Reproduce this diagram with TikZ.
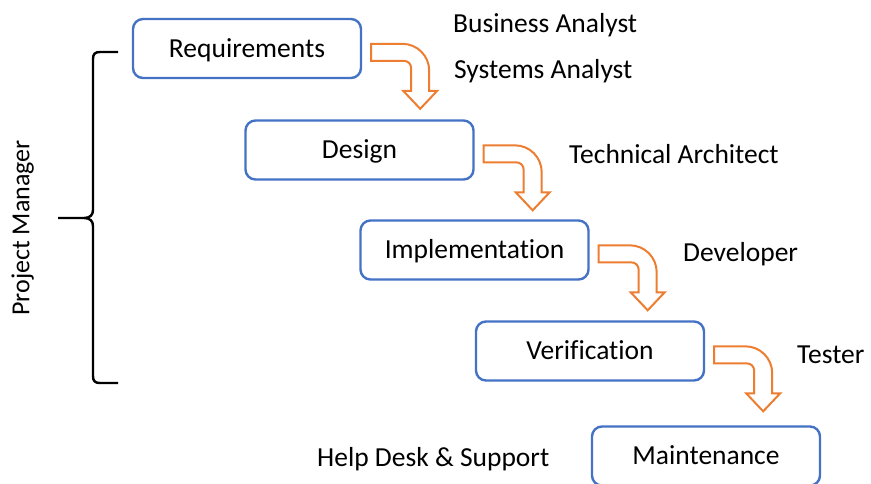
\documentclass[tikz,border=0pt]{standalone}
\usepackage{fontspec}
\setmainfont{Carlito}[Ligatures=NoCommon]
\usetikzlibrary{calc}
\definecolor{stageblue}{HTML}{4472C4}
\definecolor{floworange}{HTML}{ED7D31}

% bent block arrow leaving the right side of a stage box and pointing down
\newcommand\stagearrow[1]{%
  \draw[flowarrow, shift={($(#1.north east)+(9,26)$)}]
    (0,0) -- (31,0) .. controls (46,0) and (58,12) .. (58,27)
    -- (58,47) -- (66,47) -- (49,65) -- (32,47) -- (40,47) -- (40,25)
    .. controls (40,20) and (37,17) .. (32,17) -- (0,17) -- cycle;}

\begin{document}
\begin{tikzpicture}[x=1pt,y=-1pt,
  labelfont/.style={font=\fontsize{27.5}{32}\selectfont},
  stagebox/.style={labelfont, draw=stageblue, line width=2.4pt,
    rounded corners=10pt, minimum width=228pt, minimum height=59pt,
    inner sep=0pt, text height=17.7pt, text depth=0pt},
  role/.style={labelfont, inner sep=0pt, text height=17.7pt, text depth=0pt,
    anchor=west},
  flowarrow/.style={draw=floworange, fill=white, line width=2pt},
  brace/.style={draw=black, line width=2.4pt}]

\useasboundingbox (0,0) rectangle (871,483);
\clip (0,0) rectangle (871,483);

% stages
\node[stagebox] (s1) at (247,48.5)  {Requirements};
\node[stagebox] (s2) at (359.5,150) {Design};
\node[stagebox] (s3) at (474.5,250) {Implementation};
\node[stagebox] (s4) at (590,351)   {Verification};
\node[stagebox] (s5) at (706,456)   {Maintenance};

% flow between stages
\stagearrow{s1}
\stagearrow{s2}
\stagearrow{s3}
\stagearrow{s4}

% roles
\node[role] (r1) at (453,24)  {Business Analyst};
\node[role] (r2) at (454,70)  {Systems Analyst};
\node[role] (r3) at (569,155) {Technical Architect};
\node[role] (r4) at (683,253) {Developer};
\node[role] (r5) at (797,355) {Tester};
\node[role] (r6) at (317,458) {Help Desk \& Support};

% project manager spanning all stages
\draw[brace]
  (118,52) -- (100,52) .. controls (95,52) and (93,54) .. (93,59)
  -- (93,210) .. controls (93,215) and (90,218) .. (84,218) -- (58,218)
  (84,218) .. controls (90,218) and (93,221) .. (93,226)
  -- (93,376) .. controls (93,381) and (95,383) .. (100,383) -- (118,383);
\node[font=\fontsize{26}{30}\selectfont, inner sep=0pt, text height=16.7pt,
  text depth=0pt, rotate=90] (pm) at (21,228) {Project Manager};
\end{tikzpicture}
\end{document}
